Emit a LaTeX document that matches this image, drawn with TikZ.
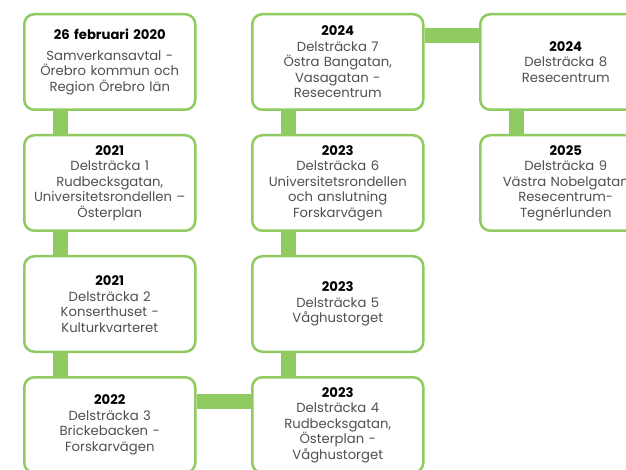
\documentclass[tikz,border=0pt]{standalone}
\usepackage{fontspec}
\setmainfont{Poppins}
\usetikzlibrary{positioning,backgrounds}
\definecolor{lgreen}{RGB}{143,203,96}
\definecolor{txtgray}{RGB}{80,80,80}

\begin{document}
\begin{tikzpicture}[
    box/.style={draw=lgreen, line width=2.5pt, fill=white, rounded corners=10pt,
      minimum width=171pt, minimum height=95.5pt, inner sep=0pt,
      text width=170pt, align=center, text=txtgray,
      font=\fontsize{13.2}{15.5}\selectfont},
    bar/.style={lgreen, line width=15pt},
    node distance=23pt and 54.5pt]
  \useasboundingbox (0,0) rectangle (626pt,-470pt);
  \clip (0,0) rectangle (626pt,-470pt);

  % first column
  \node[box, anchor=north west] (avtal) at (23pt,-13pt)
    {\textcolor{black}{\textbf{26 februari 2020}}\\[5pt]
     Samverkansavtal -\\Örebro kommun och\\Region Örebro län};
  \node[box, below=of avtal] (ds1)
    {\textcolor{black}{\textbf{2021}}\\Delsträcka 1\\Rudbecksgatan,\\
     Universitetsrondellen –\\Österplan};
  \node[box, below=of ds1] (ds2)
    {\textcolor{black}{\textbf{2021}}\\Delsträcka 2\\Konserthuset -\\Kulturkvarteret};
  \node[box, below=of ds2] (ds3)
    {\textcolor{black}{\textbf{2022}}\\Delsträcka 3\\Brickebacken -\\Forskarvägen};

  % second column
  \node[box, right=of ds3] (ds4)
    {\textcolor{black}{\textbf{2023}}\\Delsträcka 4\\Rudbecksgatan,\\Österplan -\\Våghustorget};
  \node[box, above=of ds4] (ds5)
    {\textcolor{black}{\textbf{2023}}\\Delsträcka 5\\Våghustorget};
  \node[box, above=of ds5] (ds6)
    {\textcolor{black}{\textbf{2023}}\\Delsträcka 6\\Universitetsrondellen\\
     och anslutning\\Forskarvägen};
  \node[box, above=of ds6] (ds7)
    {\textcolor{black}{\textbf{2024}}\\Delsträcka 7\\Östra Bangatan,\\Vasagatan -\\Resecentrum};

  % third column
  \node[box, right=of ds7] (ds8)
    {\textcolor{black}{\textbf{2024}}\\Delsträcka 8\\Resecentrum};
  \node[box, below=of ds8] (ds9)
    {\textcolor{black}{\textbf{2025}}\\Delsträcka 9\\Västra Nobelgatan\\
     Resecentrum-\\Tegnérlunden};

  \begin{pgfonlayer}{background}
    \fill[white] (0,0) rectangle (626pt,-470pt);
    \draw[bar] ([xshift=37pt]avtal.south west) -- ([xshift=37pt]ds1.north west);
    \draw[bar] ([xshift=37pt]ds1.south west) -- ([xshift=37pt]ds2.north west);
    \draw[bar] ([xshift=37pt]ds2.south west) -- ([xshift=37pt]ds3.north west);
    \draw[bar] ([yshift=-25pt]ds3.north east) -- ([yshift=-25pt]ds4.north west);
    \draw[bar] ([xshift=37pt]ds4.north west) -- ([xshift=37pt]ds5.south west);
    \draw[bar] ([xshift=37pt]ds5.north west) -- ([xshift=37pt]ds6.south west);
    \draw[bar] ([xshift=37pt]ds6.north west) -- ([xshift=37pt]ds7.south west);
    \draw[bar] ([yshift=-23pt]ds7.north east) -- ([yshift=-23pt]ds8.north west);
    \draw[bar] ([xshift=37pt]ds8.south west) -- ([xshift=37pt]ds9.north west);
  \end{pgfonlayer}
\end{tikzpicture}
\end{document}
